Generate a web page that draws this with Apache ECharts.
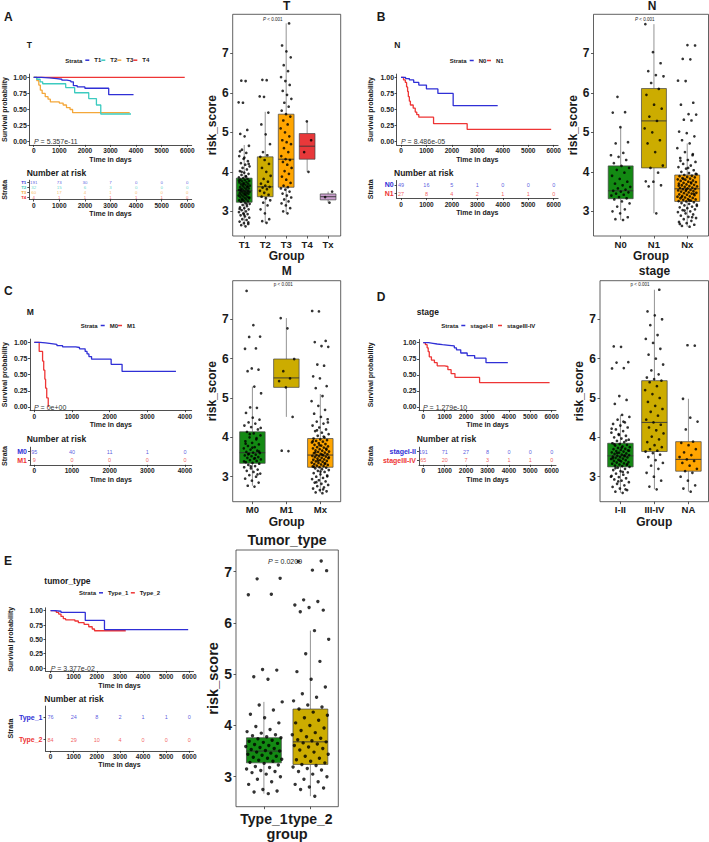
<!DOCTYPE html>
<html><head><meta charset="utf-8">
<script src="https://cdn.jsdelivr.net/npm/echarts@6/dist/echarts.min.js"></script>
<style>html,body{margin:0;padding:0;background:#fff}#chart{width:709px;height:842px}</style>
</head><body><div id="chart"></div>
<script>
// ---------------- DATA ----------------
const timeTicks6 = [0,1000,2000,3000,4000,5000,6000];
const timeTicks4 = [0,1000,2000,3000,4000];
const survTicks = [0,0.25,0.5,0.75,1];
const scoreTicks = [3,4,5,6,7];

// Panel A (T)
const strataT = ['T1','T2','T3','T4'];
const survT1 = [[0,1],[300,0.99],[600,0.98],[900,0.97],[1100,0.955],[1300,0.945],[1450,0.93],[1550,0.87],[1700,0.85],[2000,0.83],[2930,0.73],[3900,0.73]];
const survT2 = [[0,1],[120,0.97],[250,0.93],[350,0.90],[1250,0.84],[1600,0.76],[2150,0.67],[2450,0.57],[2620,0.43],[3800,0.43]];
const survT3 = [[0,1],[120,0.95],[200,0.88],[260,0.80],[330,0.75],[450,0.70],[560,0.66],[650,0.62],[1000,0.60],[1150,0.57],[1280,0.53],[1420,0.50],[1520,0.45],[3750,0.45]];
const survT4 = [[0,1],[5900,1]];
const riskT1 = [191,73,30,7,0,0,0];
const riskT2 = [32,15,6,3,0,0,0];
const riskT3 = [60,17,4,1,0,0,0];
const riskT4 = [4,1,1,1,1,1,0];
const groupsT = ['T1','T2','T3','T4','Tx'];
const boxT = [[2.62,3.23,3.52,3.84,4.68],[2.71,3.37,3.62,4.38,5.52],[2.95,3.61,4.32,5.46,7.76],[4.00,4.32,4.65,4.97,5.28],[3.22,3.29,3.37,3.44,3.50]];
const ptsT1 = [2.62,2.65,2.68,2.70,2.74,2.78,2.80,2.84,2.87,2.90,2.93,2.95,2.98,3.00,3.03,3.05,3.08,3.10,3.13,3.16,3.19,3.22,3.24,3.25,3.27,3.28,3.30,3.31,3.33,3.34,3.36,3.37,3.38,3.40,3.41,3.42,3.44,3.45,3.46,3.47,3.48,3.49,3.50,3.51,3.52,3.53,3.54,3.56,3.57,3.58,3.60,3.61,3.62,3.64,3.65,3.67,3.68,3.70,3.71,3.73,3.74,3.76,3.77,3.79,3.80,3.82,3.84,3.86,3.89,3.92,3.95,3.98,4.02,4.06,4.10,4.14,4.18,4.22,4.27,4.33,4.40,4.48,4.56,4.66,4.90,4.96,5.06,5.75,5.76,6.30,6.31,2.72,2.92,3.06,3.18,3.29,3.35,3.43,3.55,3.63,3.69,3.78,3.88,4.00,4.20,4.36,4.52];
const ptsT2 = [2.71,2.75,2.80,2.95,3.05,3.15,3.22,3.28,3.33,3.37,3.42,3.47,3.52,3.56,3.60,3.62,3.65,3.70,3.75,3.82,3.90,4.00,4.10,4.20,4.30,4.38,4.42,4.50,4.70,4.95,5.20,5.50,5.90,5.91,6.32,6.33];
const ptsT3 = [2.95,3.00,3.08,3.15,3.20,3.25,3.30,3.35,3.40,3.45,3.50,3.55,3.58,3.61,3.65,3.72,3.80,3.88,3.95,4.02,4.10,4.18,4.25,4.30,4.32,4.40,4.50,4.60,4.70,4.75,4.80,4.90,5.00,5.10,5.20,5.30,5.40,5.46,5.55,5.65,5.75,5.85,5.95,6.05,6.20,6.30,6.40,6.55,6.70,6.90,7.05,7.20,7.76];
const ptsT4 = [4.00,4.50,4.80,5.28];
const ptsTx = [3.22,3.36,3.50];

// Panel B (N)
const strataN = ['N0','N1'];
const survN0 = [[0,1],[180,0.98],[330,0.96],[500,0.92],[700,0.88],[1000,0.82],[1450,0.75],[2050,0.56],[3800,0.56]];
const survN1 = [[0,1],[100,0.96],[170,0.92],[220,0.85],[260,0.78],[290,0.70],[330,0.63],[370,0.57],[480,0.52],[560,0.46],[620,0.42],[700,0.38],[1280,0.28],[2600,0.19],[5900,0.19]];
const riskN0 = [49,16,5,1,0,0,0];
const riskN1 = [27,8,4,2,1,1,0];
const groupsN = ['N0','N1','Nx'];
const boxN = [[2.78,3.32,3.52,4.15,5.13],[2.95,4.10,5.29,6.11,7.74],[2.61,3.25,3.57,3.92,4.72]];
const ptsN0 = [2.78,2.80,2.85,2.95,3.00,3.05,3.12,3.20,3.25,3.30,3.33,3.36,3.40,3.42,3.45,3.48,3.50,3.52,3.55,3.58,3.62,3.66,3.70,3.75,3.82,3.90,3.98,4.05,4.10,4.15,4.22,4.30,4.38,4.42,4.48,4.72,4.75,5.13,5.50,5.51,5.90];
const ptsN1 = [2.95,3.63,3.66,3.75,3.76,3.98,4.10,4.16,4.50,4.72,4.80,5.00,5.10,5.29,5.40,5.60,5.70,5.95,6.10,6.25,6.42,6.45,6.55,6.75,7.03,7.74];
const ptsNx = [2.61,2.63,2.66,2.70,2.73,2.76,2.80,2.83,2.86,2.89,2.92,2.95,2.98,3.00,3.03,3.05,3.08,3.10,3.12,3.15,3.17,3.19,3.21,3.23,3.25,3.26,3.27,3.29,3.30,3.31,3.33,3.34,3.35,3.37,3.38,3.39,3.41,3.42,3.43,3.45,3.46,3.47,3.48,3.50,3.51,3.52,3.53,3.54,3.56,3.57,3.58,3.59,3.60,3.62,3.63,3.64,3.66,3.67,3.68,3.70,3.71,3.72,3.74,3.75,3.77,3.78,3.80,3.81,3.83,3.84,3.86,3.87,3.89,3.90,3.92,3.94,3.97,4.00,4.04,4.08,4.12,4.16,4.20,4.25,4.30,4.35,4.42,4.50,4.60,4.72,4.80,4.90,4.98,5.02,5.30,5.32,5.45,5.46,5.70,5.75,6.30,6.31,6.85,6.86,7.20,7.21,2.68,2.85,3.02,3.14,3.28,3.36,3.44,3.55,3.65,3.73,3.82,3.95,4.10,4.28,4.45];

// Panel C (M)
const strataM = ['M0','M1'];
const survM0 = [[0,1],[150,0.99],[300,0.98],[450,0.97],[600,0.95],[750,0.93],[1100,0.92],[1200,0.90],[1350,0.86],[1400,0.82],[1450,0.78],[1520,0.74],[2040,0.66],[2330,0.55],[3760,0.55]];
const survM1 = [[0,1],[130,0.86],[220,0.71],[250,0.57],[280,0.43],[300,0.29],[330,0.14],[370,0]];
const riskM0 = [95,40,11,1,0];
const riskM1 = [9,0,0,0,0];
const groupsM = ['M0','M1','Mx'];
const boxM = [[2.77,3.34,3.61,4.14,5.29],[4.52,5.27,5.51,5.99,7.03],[2.59,3.24,3.55,3.97,5.10]];
const ptsM0 = [2.75,2.77,2.85,2.90,2.95,3.00,3.04,3.08,3.12,3.15,3.18,3.21,3.24,3.27,3.30,3.33,3.35,3.37,3.40,3.42,3.44,3.46,3.48,3.50,3.52,3.54,3.56,3.58,3.60,3.61,3.63,3.66,3.69,3.72,3.75,3.78,3.82,3.86,3.90,3.95,4.00,4.05,4.10,4.14,4.20,4.26,4.30,4.35,4.38,4.45,4.50,4.62,4.75,4.76,5.12,5.29,5.68,5.72,5.75,6.25,6.26,6.55,6.56,6.85,7.72,3.06,3.26,3.39,3.47,3.57,3.64,3.74,3.84,3.98,4.08,4.24];
const ptsM1 = [3.65,3.66,4.52,5.27,5.43,5.50,5.68,5.99,6.77,7.03];
const ptsMx = [2.58,2.60,2.63,2.66,2.70,2.73,2.76,2.79,2.82,2.85,2.88,2.91,2.94,2.97,3.00,3.03,3.06,3.09,3.12,3.15,3.17,3.19,3.21,3.23,3.24,3.26,3.27,3.28,3.30,3.31,3.32,3.34,3.35,3.36,3.38,3.39,3.40,3.42,3.43,3.44,3.46,3.47,3.48,3.50,3.51,3.52,3.53,3.54,3.55,3.57,3.58,3.60,3.61,3.63,3.64,3.66,3.67,3.69,3.70,3.72,3.74,3.75,3.77,3.79,3.81,3.83,3.85,3.87,3.89,3.91,3.93,3.95,3.97,4.00,4.04,4.08,4.12,4.16,4.20,4.25,4.30,4.35,4.40,4.46,4.52,4.60,4.70,4.80,4.92,5.05,5.25,5.30,5.50,5.55,5.82,5.85,6.30,6.32,6.42,6.45,7.20,7.21,2.68,2.86,3.01,3.13,3.25,3.33,3.41,3.49,3.56,3.62,3.71,3.80,3.90,4.02,4.18,4.38];

// Panel D (stage)
const strataS = ['stageI-II','stageIII-IV'];
const survS12 = [[0,1],[250,0.99],[450,0.98],[650,0.97],[900,0.96],[1200,0.95],[1450,0.92],[1550,0.89],[1750,0.84],[2050,0.80],[2400,0.76],[2930,0.69],[3950,0.69]];
const survS34 = [[0,1],[100,0.97],[180,0.92],[230,0.86],[280,0.78],[380,0.73],[520,0.69],[650,0.64],[1000,0.63],[1150,0.58],[1300,0.52],[1480,0.46],[2630,0.38],[5900,0.38]];
const riskS12 = [191,71,27,8,0,0,0];
const riskS34 = [65,20,7,3,1,1,0];
const groupsS = ['I-II','III-IV','NA'];
const boxS = [[2.59,3.25,3.53,3.85,4.57],[2.68,3.64,4.38,5.44,7.75],[2.62,3.14,3.44,3.89,4.98]];
const ptsS12 = [2.59,2.62,2.66,2.70,2.74,2.78,2.82,2.86,2.90,2.93,2.96,2.99,3.02,3.05,3.08,3.11,3.14,3.17,3.20,3.23,3.25,3.27,3.28,3.30,3.31,3.33,3.34,3.36,3.37,3.39,3.40,3.42,3.43,3.45,3.46,3.48,3.49,3.50,3.51,3.52,3.53,3.55,3.56,3.58,3.59,3.61,3.62,3.64,3.65,3.67,3.68,3.70,3.71,3.73,3.75,3.77,3.79,3.81,3.83,3.85,3.88,3.91,3.94,3.97,4.00,4.04,4.08,4.12,4.16,4.20,4.25,4.30,4.34,4.38,4.45,4.52,4.57,4.85,4.95,5.05,5.75,5.76,5.90,5.91,6.30,6.31,2.68,2.88,3.00,3.12,3.22,3.32,3.41,3.47,3.54,3.60,3.66,3.74,3.82,3.92,4.06,4.22,4.40];
const ptsS34 = [2.68,2.75,2.90,3.00,3.10,3.20,3.28,3.35,3.42,3.50,3.56,3.60,3.64,3.66,3.70,3.75,3.80,3.88,3.95,4.02,4.10,4.18,4.25,4.32,4.38,4.45,4.55,4.65,4.72,4.80,4.90,5.00,5.10,5.20,5.30,5.40,5.44,5.48,5.52,5.60,5.70,5.85,6.00,6.10,6.25,6.40,6.50,6.60,6.85,7.00,7.10,7.20,7.75];
const ptsSNA = [2.62,2.70,2.78,2.90,3.00,3.10,3.14,3.20,3.28,3.35,3.40,3.44,3.50,3.55,3.62,3.70,3.80,3.86,3.89,4.20,4.40,4.50,4.98,6.33,6.34];

// Panel E (tumor_type)
const strataE = ['Type_1','Type_2'];
const survE1 = [[0,1],[200,0.99],[450,0.97],[1500,0.83],[2330,0.67],[5950,0.67]];
const survE2 = [[0,1],[150,0.99],[250,0.97],[350,0.94],[450,0.90],[550,0.86],[650,0.84],[1050,0.82],[1200,0.79],[1450,0.76],[1650,0.72],[1800,0.68],[1900,0.65],[3250,0.65]];
const riskE1 = [76,24,8,2,1,1,0];
const riskE2 = [84,29,10,4,0,0,0];
const groupsE = ['Type_1','type_2'];
const boxE = [[2.67,3.27,3.50,3.76,4.46],[2.62,3.24,3.68,4.32,5.85]];
const ptsE1 = [2.67,2.70,2.72,2.75,2.85,2.90,2.95,3.00,3.05,3.08,3.10,3.12,3.15,3.18,3.20,3.23,3.26,3.28,3.30,3.32,3.34,3.36,3.38,3.40,3.42,3.44,3.46,3.48,3.50,3.51,3.53,3.55,3.57,3.59,3.61,3.63,3.65,3.67,3.69,3.71,3.74,3.76,3.78,3.80,3.82,3.85,3.88,3.92,3.98,4.05,4.15,4.22,4.30,4.40,4.46,4.90,4.95,5.08,5.09,6.55,6.56,6.86,6.87];
const ptsE2 = [2.62,2.75,2.78,2.80,2.85,2.90,2.95,3.00,3.05,3.10,3.13,3.16,3.19,3.22,3.24,3.27,3.30,3.33,3.36,3.40,3.44,3.48,3.52,3.55,3.58,3.61,3.64,3.66,3.68,3.70,3.72,3.75,3.78,3.82,3.86,3.90,3.95,4.00,4.05,4.10,4.15,4.20,4.26,4.32,4.36,4.40,4.48,4.55,4.62,4.75,4.90,5.05,5.25,5.40,5.68,5.85,6.22,6.25,6.30,6.35,6.42,6.45,7.02,7.03,7.20,7.21];

// ---------------- BUILD ----------------
const FONT = '"Liberation Sans", Arial, Helvetica, sans-serif';
const BLUE = '#2F2FD6', RED = '#EE3535', CYAN = '#3CCBC0', ORANGE = '#F4A73A';
const GREEN = '#138A13', GOLD = '#CCAC00', ORG = '#FFA500', FIRE = '#E8383A', PLUM = '#CBA0CF';
const INK = '#1a1a1a';

const grids = [], xAxes = [], yAxes = [], series = [], legends = [], graphics = [];

function addGrid(l, t, r, b, extra) {
  grids.push(Object.assign({left: l, top: t, width: r - l, height: b - t, outerBoundsMode: 'none', containLabel: false}, extra || {}));
  return grids.length - 1;
}
function txt(x, y, text, size, o) {
  o = o || {};
  const st = {text: text, fontSize: size, fontWeight: o.weight || 'normal', fontFamily: FONT,
    fill: o.color || INK, align: o.align || 'left', verticalAlign: 'middle',
    textAlign: o.align || 'left', textVerticalAlign: 'middle'};
  if (o.rich) st.rich = o.rich;
  graphics.push({type: 'text', x: x, y: y, rotation: o.rot || 0, silent: true, z: 100, style: st});
}
function timeAxis(g, xmin, xmax, ticks, gap) {
  xAxes.push({gridIndex: g, type: 'value', min: xmin, max: xmax,
    axisLine: {show: true, onZero: false, lineStyle: {color: '#222', width: 0.8}},
    axisTick: {show: true, length: 2, customValues: ticks, lineStyle: {color: '#222', width: 0.8}},
    axisLabel: {customValues: ticks, formatter: v => String(v), hideOverlap: false, fontSize: 6.5, fontWeight: 'bold', color: '#222', margin: 2.5, fontFamily: FONT},
    splitLine: {show: false},
    name: 'Time in days', nameLocation: 'middle', nameGap: gap,
    nameTextStyle: {fontSize: 7, fontWeight: 'bold', color: INK, fontFamily: FONT}});
  return xAxes.length - 1;
}
function survPanel(c) {
  const g = addGrid(c.left, c.top, c.right, c.bottom);
  const ax = timeAxis(g, c.xmin, c.xmax, c.ticks, c.xgap);
  yAxes.push({gridIndex: g, type: 'value', min: -0.05, max: 1.05,
    axisLine: {show: true, onZero: false, lineStyle: {color: '#222', width: 0.8}},
    axisTick: {show: true, length: 2, customValues: survTicks, lineStyle: {color: '#222', width: 0.8}},
    axisLabel: {customValues: survTicks, formatter: v => (+v).toFixed(2), hideOverlap: false, fontSize: 7, fontWeight: 'bold', color: '#222', margin: 2.5, fontFamily: FONT},
    splitLine: {show: false},
    name: 'Survival probability', nameLocation: 'middle', nameGap: c.ygap,
    nameTextStyle: {fontSize: 7, fontWeight: 'bold', color: INK, fontFamily: FONT}});
  const ay = yAxes.length - 1;
  c.names.forEach((n, i) => series.push({type: 'line', name: n, xAxisIndex: ax, yAxisIndex: ay,
    data: c.curves[i], step: 'end', symbol: 'none', showSymbol: false,
    lineStyle: {width: 1.3, color: c.colors[i]}, itemStyle: {color: c.colors[i]}, z: 3 + (c.names.length - i)}));
  // risk table (category rows)
  const rg = addGrid(c.left, c.rtop, c.right, c.rbottom);
  const rx = timeAxis(rg, c.xmin, c.xmax, c.ticks, c.rxgap);
  yAxes.push({gridIndex: rg, type: 'category', data: c.names, inverse: true, boundaryGap: true,
    axisLine: {show: true, onZero: false, lineStyle: {color: '#222', width: 0.8}},
    axisTick: {show: true, length: 2, alignWithLabel: true, interval: 0, lineStyle: {color: '#222', width: 0.8}},
    axisLabel: {interval: 0, hideOverlap: false,
      color: (v, idx) => c.colors[c.names.indexOf(v)], fontSize: c.rlfs, fontWeight: 'bold', margin: 3, fontFamily: FONT},
    splitLine: {show: false},
    name: 'Strata', nameLocation: 'middle', nameGap: c.ygap,
    nameTextStyle: {fontSize: 7, fontWeight: 'bold', color: INK, fontFamily: FONT}});
  const ry = yAxes.length - 1;
  c.names.forEach((n, i) => series.push({type: 'scatter', name: n + ' at risk', xAxisIndex: rx, yAxisIndex: ry,
    data: c.ticks.map((t, j) => [t, i, c.risk[i][j]]), symbolSize: 0, silent: true,
    itemStyle: {color: 'rgba(0,0,0,0)'},
    labelLayout: {hideOverlap: false},
    label: {show: true, position: 'inside', formatter: p => String(p.value[2]), fontSize: c.rnfs || 5.5, color: c.colors[i], fontFamily: FONT}}));
  legends.push({data: c.names, left: c.legLeft, top: c.legTop, itemWidth: 4, itemHeight: 1.5, itemGap: c.legGap,
    icon: 'rect', padding: 0, selectedMode: false,
    textStyle: {fontSize: 6, fontWeight: 'bold', color: INK, fontFamily: FONT}});
  txt(c.legLeft - 3, c.legTop + 3.5, 'Strata', 6, {weight: 'bold', align: 'right'});
  txt(c.titleX, c.titleY, c.title, 8.5, {weight: 'bold'});
  txt(c.nrX, c.nrY, 'Number at risk', 8.5, {weight: 'bold'});
  txt(c.pX, c.pY, '{i|P} = ' + c.p, 7, {color: '#333', rich: {i: {fontStyle: 'italic', fontSize: 7, fontFamily: FONT, fill: '#333', color: '#333'}}});
}
function jitter(k, w) { return (((k + 1) * 0.6180339887) % 1 - 0.5) * 2 * w; }
function boxRenderer(colors, halfW) {
  return function (params, api) {
    const x = api.value(0);
    const lo = api.coord([x, api.value(1)]), q1 = api.coord([x, api.value(2)]), md = api.coord([x, api.value(3)]),
      q3 = api.coord([x, api.value(4)]), hi = api.coord([x, api.value(5)]);
    const l = api.coord([x - halfW, api.value(3)])[0], r = api.coord([x + halfW, api.value(3)])[0];
    const cx = md[0];
    return {type: 'group', children: [
      {type: 'line', shape: {x1: cx, y1: hi[1], x2: cx, y2: q3[1]}, style: {stroke: '#666', lineWidth: 0.7}},
      {type: 'line', shape: {x1: cx, y1: q1[1], x2: cx, y2: lo[1]}, style: {stroke: '#666', lineWidth: 0.7}},
      {type: 'rect', shape: {x: l, y: q3[1], width: r - l, height: q1[1] - q3[1]}, style: {fill: colors[params.dataIndex], stroke: '#444', lineWidth: 0.7}},
      {type: 'line', shape: {x1: l, y1: md[1], x2: r, y2: md[1]}, style: {stroke: '#333', lineWidth: 0.9}}
    ]};
  };
}
function boxPanel(c) {
  const g = addGrid(c.left, c.top, c.right, c.bottom, {show: true, borderColor: '#3a3a3a', borderWidth: 0.8, backgroundColor: '#fff'});
  const cats = c.groups.map((_, i) => i + 1);
  xAxes.push({gridIndex: g, type: 'value', min: c.xmin, max: c.xmax,
    axisLine: {show: false}, splitLine: {show: false},
    axisTick: {show: true, length: 2.5, customValues: cats, lineStyle: {color: '#333', width: 0.8}},
    axisLabel: {customValues: cats, formatter: v => c.groups[Math.round(+v) - 1], hideOverlap: false,
      showMinLabel: true, showMaxLabel: true,
      fontSize: c.xfs, fontWeight: 'bold', color: INK, margin: c.xmargin, fontFamily: FONT},
    name: c.xname, nameLocation: 'middle', nameGap: c.xnamegap,
    nameTextStyle: {fontSize: c.nfs, fontWeight: 'bold', color: INK, fontFamily: FONT}});
  yAxes.push({gridIndex: g, type: 'value', min: c.ymin, max: c.ymax,
    axisLine: {show: false}, splitLine: {show: false},
    axisTick: {show: true, length: 2.5, customValues: scoreTicks, lineStyle: {color: '#333', width: 0.8}},
    axisLabel: {customValues: scoreTicks, hideOverlap: false, fontSize: c.yfs, fontWeight: 'bold', color: INK, margin: 4, fontFamily: FONT},
    name: 'risk_score', nameLocation: 'middle', nameGap: c.ynamegap,
    nameTextStyle: {fontSize: c.nfs, fontWeight: 'bold', color: INK, fontFamily: FONT}});
  const ax = xAxes.length - 1, ay = yAxes.length - 1;
  series.push({type: 'custom', xAxisIndex: ax, yAxisIndex: ay, silent: true, z: 2,
    data: c.stats.map((s, i) => [i + 1].concat(s)), encode: {x: 0, y: [1, 2, 3, 4, 5]},
    renderItem: boxRenderer(c.colors, 0.375)});
  const pts = [];
  c.points.forEach((arr, gi) => arr.forEach((v, k) => pts.push([gi + 1 + jitter(k, c.jit), v])));
  series.push({type: 'scatter', xAxisIndex: ax, yAxisIndex: ay, silent: true, z: 4,
    data: pts, symbolSize: c.dot, itemStyle: {color: '#000'}});
  txt(c.titleX, c.titleY, c.title, c.tfs, {weight: 'bold', align: 'center'});
  txt(c.pX, c.pY, c.p, c.pfs, {align: 'center', color: '#222', rich: {i: {fontStyle: 'italic', fontSize: c.pfs, fontFamily: FONT, fill: '#222'}}});
}

// Survival panels
survPanel({left: 29.3, right: 191.7, top: 74.1, bottom: 144.9, xmin: -172, xmax: 6172, ticks: timeTicks6,
  xgap: 10.9, ygap: 21.8, rtop: 180.2, rbottom: 199.5, rxgap: 9.7, rlfs: 4.4, rnfs: 4.4,
  names: strataT, curves: [survT1, survT2, survT3, survT4], colors: [BLUE, CYAN, ORANGE, RED],
  risk: [riskT1, riskT2, riskT3, riskT4], legLeft: 85.3, legTop: 57.2, legGap: 0,
  title: 'T', titleX: 26.7, titleY: 45, nrX: 26.7, nrY: 173, pX: 34, pY: 141.7, p: '5.357e-11'});
survPanel({left: 396.6, right: 558.1, top: 74.1, bottom: 144.9, xmin: -172, xmax: 6172, ticks: timeTicks6,
  xgap: 10.9, ygap: 23.1, rtop: 180.5, rbottom: 198.1, rxgap: 11.1, rlfs: 7,
  names: strataN, curves: [survN0, survN1], colors: [BLUE, RED],
  risk: [riskN0, riskN1], legLeft: 469.7, legTop: 57.5, legGap: 0.6,
  title: 'N', titleX: 394.3, titleY: 45, nrX: 394, nrY: 173, pX: 401, pY: 141.7, p: '8.486e-05'});
survPanel({left: 30, right: 191.7, top: 339.1, bottom: 410.2, xmin: -114, xmax: 4178, ticks: timeTicks4,
  xgap: 10.6, ygap: 22.5, rtop: 447.2, rbottom: 464.8, rxgap: 11, rlfs: 7,
  names: strataM, curves: [survM0, survM1], colors: [BLUE, RED],
  risk: [riskM0, riskM1], legLeft: 100.7, legTop: 322.5, legGap: 0,
  title: 'M', titleX: 26.7, titleY: 312.3, nrX: 26.7, nrY: 439, pX: 34, pY: 407, p: '0e+00'});
survPanel({left: 419, right: 556, top: 339.5, bottom: 410.2, xmin: -200, xmax: 6200, ticks: timeTicks6,
  xgap: 10.6, ygap: 44.8, rtop: 447.2, rbottom: 464.8, rxgap: 10.7, rlfs: 7,
  names: strataS, curves: [survS12, survS34], colors: [BLUE, RED],
  risk: [riskS12, riskS34], legLeft: 461.3, legTop: 322.5, legGap: 5,
  title: 'stage', titleX: 416.7, titleY: 312.3, nrX: 416.7, nrY: 439, pX: 423, pY: 407, p: '1.279e-10'});
survPanel({left: 45.5, right: 193.5, top: 607.8, bottom: 670.9, xmin: -220, xmax: 6180, ticks: timeTicks6,
  xgap: 10.6, ygap: 32, rtop: 706.1, rbottom: 750.9, rxgap: 8.9, rlfs: 7,
  names: strataE, curves: [survE1, survE2], colors: [BLUE, RED],
  risk: [riskE1, riskE2], legLeft: 99, legTop: 589.8, legGap: 2.6,
  title: 'tumor_type', titleX: 44.3, titleY: 580.7, nrX: 44.3, nrY: 699.3, pX: 50.7, pY: 668, p: '3.377e-02'});

// Box panels
boxPanel({left: 232.7, right: 340.7, top: 14.3, bottom: 236, xmin: 0.45, xmax: 5.6, ymin: 2.375, ymax: 7.99,
  groups: groupsT, stats: boxT, points: [ptsT1, ptsT2, ptsT3, ptsT4, ptsTx], colors: [GREEN, GOLD, ORG, FIRE, PLUM],
  jit: 0.27, dot: 2.7, xfs: 9.5, xmargin: 3, xname: 'Group', xnamegap: 12, nfs: 12, yfs: 12, ynamegap: 10,
  title: 'T', titleX: 286.7, titleY: 6, tfs: 12, p: '{i|P} < 0.001', pX: 272.8, pY: 19, pfs: 4.5});
boxPanel({left: 593.5, right: 708.5, top: 14.3, bottom: 236, xmin: 0.183, xmax: 3.64, ymin: 2.375, ymax: 7.99,
  groups: groupsN, stats: boxN, points: [ptsN0, ptsN1, ptsNx], colors: [GREEN, GOLD, ORG],
  jit: 0.3, dot: 2.7, xfs: 9.5, xmargin: 3, xname: 'Group', xnamegap: 12, nfs: 12, yfs: 12, ynamegap: 10,
  title: 'N', titleX: 652, titleY: 6, tfs: 12, p: '{i|P} < 0.001', pX: 644.7, pY: 19, pfs: 4.5});
boxPanel({left: 232.7, right: 340.7, top: 280.7, bottom: 501.7, xmin: 0.42, xmax: 3.6, ymin: 2.365, ymax: 7.98,
  groups: groupsM, stats: boxM, points: [ptsM0, ptsM1, ptsMx], colors: [GREEN, GOLD, ORG],
  jit: 0.26, dot: 2.7, xfs: 9.5, xmargin: 3, xname: 'Group', xnamegap: 12, nfs: 12, yfs: 12, ynamegap: 10,
  title: 'M', titleX: 286.7, titleY: 271, tfs: 12, p: 'p < 0.001', pX: 283.3, pY: 284.3, pfs: 4.5});
boxPanel({left: 600, right: 708.5, top: 280.7, bottom: 501.7, xmin: 0.4, xmax: 3.59, ymin: 2.365, ymax: 7.98,
  groups: groupsS, stats: boxS, points: [ptsS12, ptsS34, ptsSNA], colors: [GREEN, GOLD, ORG],
  jit: 0.28, dot: 2.7, xfs: 9.5, xmargin: 3, xname: 'Group', xnamegap: 12, nfs: 12, yfs: 12, ynamegap: 7.5,
  title: 'stage', titleX: 654.5, titleY: 271, tfs: 12, p: 'p < 0.001', pX: 640, pY: 284.3, pfs: 4.5});
boxPanel({left: 236, right: 338.3, top: 550, bottom: 806.7, xmin: 0.4, xmax: 2.6, ymin: 2.415, ymax: 7.423,
  groups: groupsE, stats: boxE, points: [ptsE1, ptsE2], colors: [GREEN, GOLD],
  jit: 0.4, dot: 3.4, xfs: 14, xmargin: 5, xname: 'group', xnamegap: 19.5, nfs: 14.5, yfs: 14, ynamegap: 9.5,
  title: 'Tumor_type', titleX: 287, titleY: 540, tfs: 14, p: '{i|P} = 0.0209', pX: 285, pY: 561.7, pfs: 7});

// Panel letters
txt(4, 16.7, 'A', 12, {weight: 'bold'});
txt(376.7, 16.7, 'B', 12, {weight: 'bold'});
txt(4, 290.7, 'C', 12, {weight: 'bold'});
txt(376.7, 297.3, 'D', 12, {weight: 'bold'});
txt(4, 560.7, 'E', 12, {weight: 'bold'});

const chart = echarts.init(document.getElementById('chart'), null, {renderer: 'svg', width: 709, height: 842});
chart.setOption({
  animation: false,
  backgroundColor: '#ffffff',
  textStyle: {fontFamily: FONT},
  tooltip: {show: false},
  grid: grids, xAxis: xAxes, yAxis: yAxes, series: series, legend: legends,
  graphic: {elements: graphics}
});
</script></body></html>
